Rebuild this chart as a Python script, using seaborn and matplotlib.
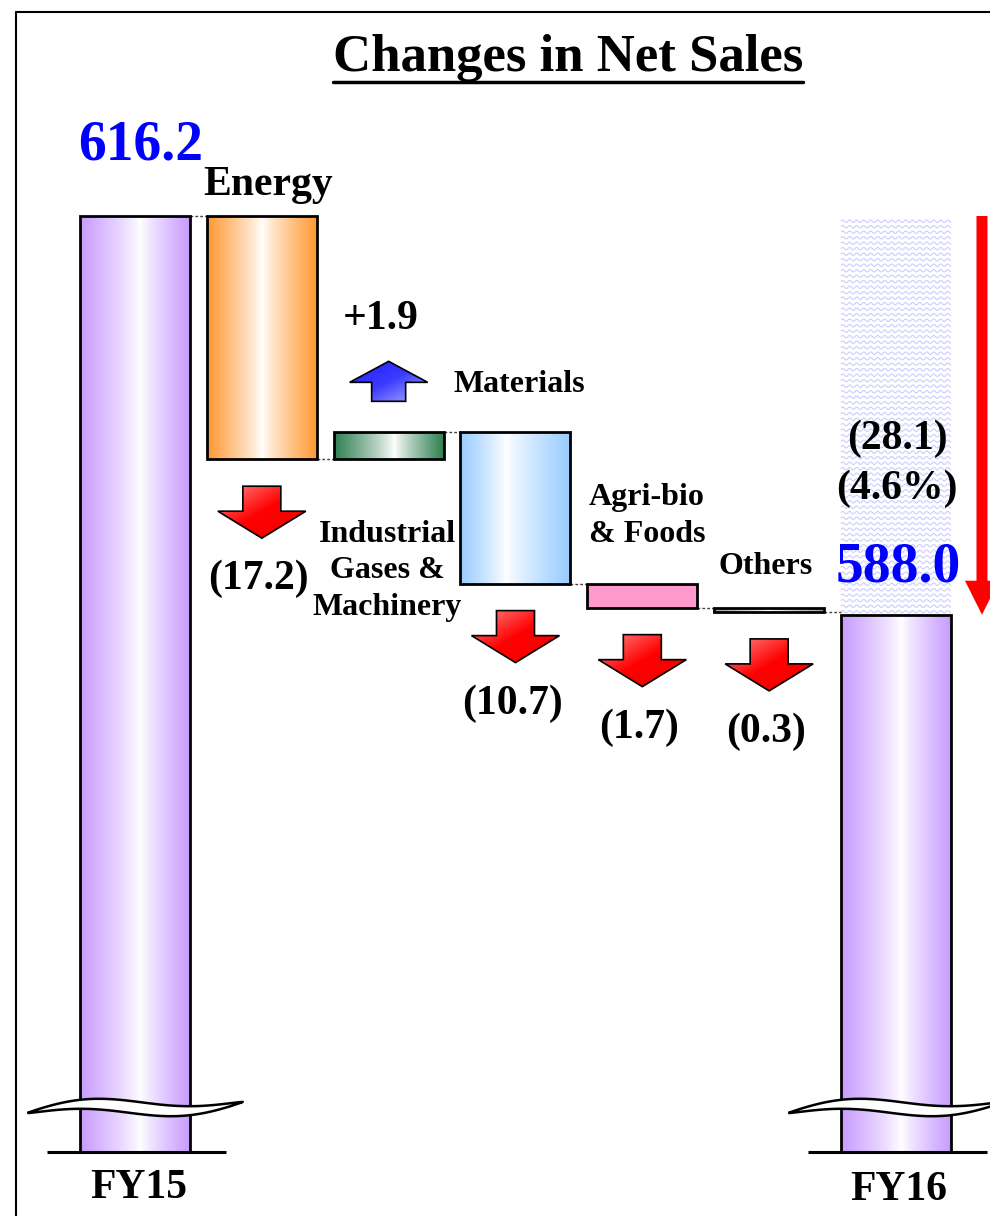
import numpy as np
import pandas as pd
import matplotlib
matplotlib.use("Agg")
import matplotlib.pyplot as plt
import matplotlib.colors as mcolors
from matplotlib.patches import Polygon
from matplotlib.lines import Line2D
from matplotlib.collections import LineCollection
import seaborn as sns

# ---------------- data (billions of yen) ----------------
steps = ["FY15", "Energy", "Materials", "Industrial Gases & Machinery",
         "Agri-bio & Foods", "Others", "FY16"]
fy15_sales = 616.2
fy16_sales = 588.0
segment_changes = [-17.2, 1.9, -10.7, -1.7, -0.3]
change_labels = ["(17.2)", "+1.9", "(10.7)", "(1.7)", "(0.3)"]
total_change_label = "(28.1)\n(4.6%)"
axis_floor = 550.0          # the y axis is broken below this value

# ---------------- waterfall geometry ----------------
levels = [fy15_sales]
for d in segment_changes:
    levels.append(levels[-1] + d)
bottoms = [axis_floor] + [min(levels[i], levels[i + 1]) for i in range(len(segment_changes))] + [axis_floor]
tops = [fy15_sales] + [max(levels[i], levels[i + 1]) for i in range(len(segment_changes))] + [fy16_sales]
heights = [t - b for t, b in zip(tops, bottoms)]
df = pd.DataFrame({"step": steps, "height": heights})

# ---------------- style ----------------
sns.set_theme(style="white")
plt.rcParams["font.family"] = ["Liberation Serif", "DejaVu Serif"]
plt.rcParams["font.weight"] = "bold"
plt.rcParams["text.color"] = "black"

W, H, DPI = 990, 1216, 100
fig = plt.figure(figsize=(W / DPI, H / DPI), dpi=DPI)
ax = fig.add_axes([0, 0, 1, 1])

X_PER_PX = 1 / 126.83
Y_PER_PX = (fy15_sales - axis_floor) / 936.0
XLIM = (-135 * X_PER_PX, (W - 135) * X_PER_PX)
YLIM = (axis_floor - (H - 1152) * Y_PER_PX, fy15_sales + 216 * Y_PER_PX)
BAR_W = 110 * X_PER_PX

sns.barplot(data=df, x="step", y="height", order=steps, width=BAR_W,
            color="white", ax=ax)

bar_styles = [("#C89BFF", 0.55), ("#FF9933", 0.5), ("#2F8052", 0.55),
              ("#99CCFF", 0.42), ("#FF99CC", None), ("#A0A0A0", 0.5),
              ("#C89BFF", 0.55)]


def hgrad(color, white_at, n=256):
    c = np.array(mcolors.to_rgb(color))
    if white_at is None:
        return np.tile(c, (1, n, 1))
    t = np.linspace(0, 1, n)
    d = np.where(t < white_at, (white_at - t) / white_at, (t - white_at) / (1 - white_at))
    f = np.clip(d, 0, 1) ** 0.85
    rgb = 1 - f[:, None] * (1 - c[None, :])
    return rgb[None, :, :]


for i, (p, b, h) in enumerate(zip(ax.patches, bottoms, heights)):
    p.set_y(b)
    p.set_height(h)
    p.set_facecolor("none")
    p.set_edgecolor("black")
    p.set_linewidth(2.0)
    p.set_zorder(4)
    col, wpos = bar_styles[i]
    x0 = p.get_x()
    im = ax.imshow(hgrad(col, wpos), extent=(x0, x0 + p.get_width(), b, b + h),
                   aspect="auto", interpolation="bilinear", zorder=2)
    im.set_clip_path(p)

# ghost of the FY15 level above the FY16 bar: wavy pale texture
gx0, gx1 = len(steps) - 1 - BAR_W / 2, len(steps) - 1 + BAR_W / 2
rows = np.arange(fy16_sales + 3 * Y_PER_PX, fy15_sales, 5.5 * Y_PER_PX)
xs = np.arange(gx0, gx1 + 1e-9, 1.0 * X_PER_PX)
phase = 2 * np.pi * (xs - gx0) / (7 * X_PER_PX)
segs = [np.column_stack([xs, r + 1.3 * Y_PER_PX * np.sin(phase)]) for r in rows]
ax.add_collection(LineCollection(segs, colors="#CACDFF", linewidths=0.8, zorder=1))

# dashed connectors between consecutive bars
for i in range(len(steps) - 1):
    ax.plot([i + BAR_W / 2, i + 1 - BAR_W / 2], [levels[i], levels[i]],
            color="#444444", lw=1.0, ls=(0, (2, 1.5)), zorder=3)


# ---------------- block arrows ----------------
def diag_image(c_start, c_mid, c_end, n=64):
    u = np.linspace(0, 1, n)
    t = (u[None, :] + u[:, None]) / 2
    a = np.array(mcolors.to_rgb(c_start))
    m = np.array(mcolors.to_rgb(c_mid))
    e = np.array(mcolors.to_rgb(c_end))
    t1 = np.clip(t / 0.5, 0, 1)[..., None]
    t2 = np.clip((t - 0.5) / 0.5, 0, 1)[..., None]
    return np.where(t[..., None] < 0.5, a + (m - a) * t1, m + (e - m) * t2)


def block_arrow(xc, y_tail, direction, shaft_px, head_px, shaft_len_px, head_len_px, colors,
                edge="black"):
    sw = shaft_px / 2 * X_PER_PX
    hw = head_px / 2 * X_PER_PX
    y1 = y_tail + direction * shaft_len_px * Y_PER_PX
    y2 = y1 + direction * head_len_px * Y_PER_PX
    pts = [(xc - sw, y_tail), (xc + sw, y_tail), (xc + sw, y1), (xc + hw, y1),
           (xc, y2), (xc - hw, y1), (xc - sw, y1)]
    poly = Polygon(pts, closed=True, facecolor="none", edgecolor=edge, lw=1.2, zorder=6)
    ax.add_patch(poly)
    lo, hi = min(y_tail, y2), max(y_tail, y2)
    im = ax.imshow(diag_image(*colors), extent=(xc - hw, xc + hw, lo, hi),
                   aspect="auto", interpolation="bilinear", zorder=5)
    im.set_clip_path(poly)
    return y2


red_shades = ("#FF8A8A", "#FF0000", "#F20000")
blue_shades = ("#2020FF", "#3A3AFF", "#B0B0FF")

for k, (chg, lab) in enumerate(zip(segment_changes, change_labels), start=1):
    if chg < 0:
        tip = block_arrow(k, bottoms[k] - 27 * Y_PER_PX, -1, 38, 88, 25, 27, red_shades)
        ax.text(k - 3 * X_PER_PX, tip - 41 * Y_PER_PX, lab, ha="center", va="center",
                fontsize=30, fontweight="bold", color="black", zorder=7)
    else:
        tip = block_arrow(k, tops[k] + 31 * Y_PER_PX, 1, 34, 78, 19, 21, blue_shades)
        ax.text(k - 8 * X_PER_PX, tip + 42 * Y_PER_PX, lab, ha="center", va="center",
                fontsize=30, fontweight="bold", color="black", zorder=7)

# overall change arrow on the right
xr = len(steps) - 1 + 86 * X_PER_PX
block_arrow(xr, fy15_sales, -1, 11, 34,
            (fy15_sales - fy16_sales) / Y_PER_PX - 34, 34,
            ("#FF0000", "#FF0000", "#FF0000"), edge="none")

# totals
ax.text(0 - 57 * X_PER_PX, fy15_sales + 71 * Y_PER_PX, f"{fy15_sales:.1f}",
        ha="left", va="center", fontsize=40, fontweight="bold", color="#0000FF")
ax.text(len(steps) - 1 + 2 * X_PER_PX, fy16_sales + 47 * Y_PER_PX, f"{fy16_sales:.1f}",
        ha="center", va="center", fontsize=40, fontweight="bold", color="#0000FF", zorder=7)
ax.text(len(steps) - 1 + 1 * X_PER_PX, fy16_sales + 151 * Y_PER_PX, total_change_label,
        ha="center", va="center", fontsize=30, fontweight="bold", color="black",
        linespacing=1.38, zorder=7)


# axis break marks and baselines under the two total bars
def break_mark(xc):
    t = np.linspace(0, 1, 120)
    xs_ = xc + (-107.5 + 215 * t) * X_PER_PX
    base = (1152 - (1113 - 11 * t - 6 * np.sin(2 * np.pi * t)))
    thick = 12 * np.sin(np.pi * t) ** 0.8
    up = axis_floor + (base + thick / 2) * Y_PER_PX
    dn = axis_floor + (base - thick / 2) * Y_PER_PX
    pts = np.vstack([np.column_stack([xs_, up]), np.column_stack([xs_[::-1], dn[::-1]])])
    ax.add_patch(Polygon(pts, closed=True, facecolor="white", edgecolor="black",
                         lw=1.8, zorder=8))
    ax.plot([xc - 88 * X_PER_PX, xc + 91 * X_PER_PX], [axis_floor, axis_floor],
            color="black", lw=2.2, zorder=5, solid_capstyle="butt")


break_mark(0)
break_mark(len(steps) - 1)

ax.set_xlim(*XLIM)
ax.set_ylim(*YLIM)
ax.axis("off")


# ---------------- free-standing labels (figure pixels) ----------------
def fig_text(px, py, s, **kw):
    return fig.text(px / W, 1 - py / H, s, color="black", **kw)


fig_text(203, 185, "Energy", ha="left", va="center", fontsize=30, fontweight="bold")
fig_text(453, 385, "Materials", ha="left", va="center", fontsize=23, fontweight="bold")
fig_text(387, 571, "Industrial\nGases &\nMachinery", ha="center", va="center",
         fontsize=23, fontweight="bold", linespacing=1.32)
fig_text(647, 516, "Agri-bio\n& Foods", ha="center", va="center",
         fontsize=23, fontweight="bold", linespacing=1.32)
fig_text(766, 566, "Others", ha="center", va="center", fontsize=23, fontweight="bold")
fig_text(139, 1188, "FY15", ha="center", va="center", fontsize=30, fontweight="bold")
fig_text(899, 1190, "FY16", ha="center", va="center", fontsize=30, fontweight="bold")

title = fig_text(568, 58, "Changes in Net Sales", ha="center", va="center",
                 fontsize=38, fontweight="bold")
fig.canvas.draw()
bb = title.get_window_extent()
fig.add_artist(Line2D([bb.x0 / W, bb.x1 / W], [1 - 82 / H, 1 - 82 / H],
                      transform=fig.transFigure, color="black", lw=2.5))

# page frame
fig.add_artist(Line2D([16 / W, 16 / W], [0, 1 - 12 / H], transform=fig.transFigure,
                      color="black", lw=1.5))
fig.add_artist(Line2D([16 / W, 1], [1 - 12 / H, 1 - 12 / H], transform=fig.transFigure,
                      color="black", lw=1.5))

fig.savefig("out.png", dpi=DPI)
